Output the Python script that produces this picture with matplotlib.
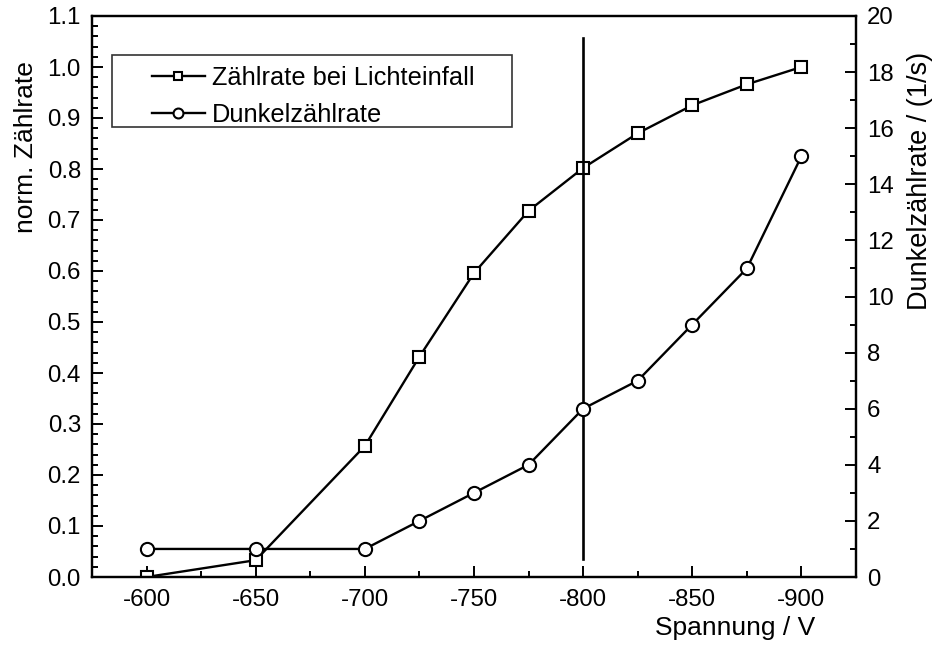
import matplotlib
matplotlib.use("Agg")
import matplotlib.pyplot as plt
from matplotlib.ticker import MultipleLocator, FormatStrFormatter
from matplotlib.patches import Rectangle

plt.rcParams['font.family'] = ['Liberation Sans', 'DejaVu Sans']
plt.rcParams['axes.unicode_minus'] = False
plt.rcParams['font.size'] = 17.3

# Spannung in V
spannung = [-600, -650, -700, -725, -750, -775, -800, -825, -850, -875, -900]
# normierte Zaehlrate bei Lichteinfall
zaehlrate = [0.0, 0.033, 0.257, 0.432, 0.596, 0.718, 0.802, 0.870, 0.925, 0.966, 1.0]
# Dunkelzaehlrate in 1/s
dunkel = [1, 1, 1, 2, 3, 4, 6, 7, 9, 11, 15]

# Markierung bei -800 V
marker_x = -800
marker_y = (0.035, 1.057)

fig = plt.figure(figsize=(9.35, 6.45), dpi=100)
ax = fig.add_axes([92/935, 1-577/645, 764/935, 561/645])
ax2 = ax.twinx()

ax.plot(spannung, zaehlrate, color='black', lw=1.7, marker='s', ms=8.5,
        mfc='white', mec='black', mew=1.5, label='Zählrate bei Lichteinfall')
ax2.plot(spannung, dunkel, color='black', lw=1.7, marker='o', ms=9.5,
         mfc='white', mec='black', mew=1.5, label='Dunkelzählrate')
ax.plot([marker_x, marker_x], marker_y, color='black', lw=1.9)

ax.set_xlim(-575, -925)
ax.set_ylim(0, 1.1)
ax2.set_ylim(0, 20)

ax.xaxis.set_major_locator(MultipleLocator(50))
ax.xaxis.set_minor_locator(MultipleLocator(25))
ax.yaxis.set_major_locator(MultipleLocator(0.1))
ax.yaxis.set_minor_locator(MultipleLocator(0.02))
ax.yaxis.set_major_formatter(FormatStrFormatter('%.1f'))
ax2.yaxis.set_major_locator(MultipleLocator(2))
ax2.yaxis.set_minor_locator(MultipleLocator(1))

for a in (ax, ax2):
    a.tick_params(which='major', direction='in', length=8, width=1.4)
    a.tick_params(which='minor', direction='in', length=4.5, width=1.4)
    for s in a.spines.values():
        s.set_linewidth(1.6)
ax.tick_params(axis='x', pad=9)
ax.tick_params(axis='y', pad=8)
ax2.tick_params(axis='y', pad=8)

ax.set_ylabel('norm. Zählrate', fontsize=19)
ax.yaxis.set_label_coords(-0.071, 0.766)
ax2.set_ylabel('Dunkelzählrate / (1/s)', fontsize=19.5)
ax2.yaxis.set_label_coords(1.067, 0.706)
ax.set_xlabel('Spannung / V', fontsize=19)
ax.xaxis.set_label_coords(0.842, -0.069)

# Legende mit eigenem Rahmen
ax2.add_patch(Rectangle((0.026, 0.802), 0.524, 0.128, transform=ax2.transAxes,
                        fill=False, edgecolor='#333333', lw=1.2, zorder=5))
h1, l1 = ax.get_legend_handles_labels()
h2, l2 = ax2.get_legend_handles_labels()
ax2.legend(h1 + h2, l1 + l2, loc='upper left', bbox_to_anchor=(0.078, 0.911),
           borderaxespad=0, borderpad=0, frameon=False, markerscale=0.75,
           fontsize=18.3, handlelength=2.1, handletextpad=0.27, labelspacing=0.5)

fig.savefig('out.png', dpi=100)
